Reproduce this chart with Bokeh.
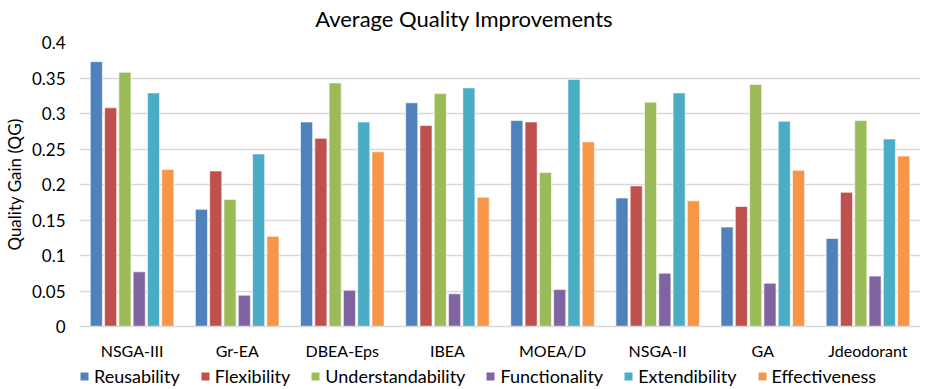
from bokeh.plotting import figure
from bokeh.layouts import column
from bokeh.models import (ColumnDataSource, FixedTicker, CustomJSTickFormatter, Legend,
                          LegendItem, Label)
from bokeh.transform import dodge
from bokeh.embed import file_html
from bokeh.resources import INLINE

algorithms = ["NSGA-III", "Gr-EA", "DBEA-Eps", "IBEA", "MOEA/D", "NSGA-II", "GA", "Jdeodorant"]
reusability = [0.373, 0.165, 0.288, 0.315, 0.290, 0.181, 0.140, 0.124]
flexibility = [0.308, 0.219, 0.265, 0.283, 0.288, 0.198, 0.169, 0.189]
understandability = [0.358, 0.179, 0.343, 0.328, 0.217, 0.316, 0.341, 0.290]
functionality = [0.077, 0.044, 0.051, 0.046, 0.052, 0.075, 0.061, 0.071]
extendibility = [0.329, 0.243, 0.288, 0.336, 0.348, 0.329, 0.289, 0.264]
effectiveness = [0.221, 0.127, 0.246, 0.182, 0.260, 0.177, 0.220, 0.240]
yticks = [0, 0.05, 0.1, 0.15, 0.2, 0.25, 0.3, 0.35, 0.4]

series = [
    ("Reusability", reusability, "#4F81BD"),
    ("Flexibility", flexibility, "#C0504D"),
    ("Understandability", understandability, "#9BBB59"),
    ("Functionality", functionality, "#8064A2"),
    ("Extendibility", extendibility, "#4BACC6"),
    ("Effectiveness", effectiveness, "#F79646"),
]

data = {"alg": algorithms}
for name, vals, _ in series:
    data[name] = vals
source = ColumnDataSource(data)

FONT = "Lato"
W = 925
LEFT, RIGHT = 76, 920   # plot frame edges, shared by all strips of the column


def strip(height):
    # frameless strip whose x data units equal page pixels
    f = figure(width=W, height=height, x_range=(LEFT, RIGHT), y_range=(0, height),
               output_backend="svg", toolbar_location=None,
               x_axis_type=None, y_axis_type=None,
               min_border_left=LEFT, min_border_right=W - RIGHT,
               min_border_top=0, min_border_bottom=0)
    f.outline_line_color = None
    f.grid.visible = False
    return f


# header strip with the chart title
header = strip(32)
header.add_layout(Label(x=462, y=14, text="Average Quality Improvements",
                        text_align="center", text_baseline="middle",
                        text_font=FONT, text_font_size="22px", text_color="#000000"))

# main bar chart
p = figure(
    x_range=algorithms, y_range=(0, 0.4),
    width=W, height=330,
    output_backend="svg", toolbar_location=None,
    min_border_left=LEFT, min_border_right=W - RIGHT, min_border_top=10, min_border_bottom=5,
)

step = 0.136
for i, (name, vals, color) in enumerate(series):
    off = (i - 2.5) * step
    p.vbar(x=dodge("alg", off, range=p.x_range), top=name, width=0.115,
           source=source, fill_color=color, line_color="white", line_width=0.6)

p.outline_line_color = None
p.xgrid.grid_line_color = None
p.ygrid.grid_line_color = "#D9D9D9"
p.ygrid.grid_line_width = 1.5
p.ygrid.ticker = FixedTicker(ticks=yticks)

p.yaxis.ticker = FixedTicker(ticks=yticks)
p.yaxis.formatter = CustomJSTickFormatter(
    code="return tick.toFixed(2).replace(/0+$/, '').replace(/\\.$/, '');")
p.yaxis.axis_line_color = None
p.yaxis.major_tick_line_color = None
p.yaxis.minor_tick_line_color = None
p.yaxis.major_tick_out = 0
p.yaxis.minor_tick_out = 0
p.yaxis.major_label_standoff = 14
p.yaxis.major_label_text_font = FONT
p.yaxis.major_label_text_font_size = "17px"
p.yaxis.major_label_text_color = "#000000"
p.yaxis.axis_label = "Quality Gain (QG)"
p.yaxis.axis_label_text_font = FONT
p.yaxis.axis_label_text_font_size = "17px"
p.yaxis.axis_label_text_font_style = "normal"
p.yaxis.axis_label_text_color = "#000000"
p.yaxis.axis_label_standoff = 4

p.xaxis.axis_line_color = "#D9D9D9"
p.xaxis.axis_line_width = 1.5
p.xaxis.major_tick_line_color = None
p.xaxis.minor_tick_line_color = None
p.xaxis.major_tick_out = 0
p.xaxis.minor_tick_out = 0
p.xaxis.major_label_text_font = FONT
p.xaxis.major_label_text_font_size = "16px"
p.xaxis.major_label_text_color = "#000000"
p.xaxis.major_label_standoff = 14
p.x_range.range_padding = 0
p.x_range.group_padding = 0

# legend strip: hidden bar renderers carry the series colours for the swatches
legend_fig = strip(27)
items = []
for name, vals, color in series:
    r = legend_fig.vbar(x=[LEFT], top=[0], width=1, fill_color=color,
                        line_color=None, visible=False)
    items.append(LegendItem(label=name, renderers=[r]))
legend = Legend(
    items=items, orientation="horizontal", location=(0, 2),
    label_text_font=FONT, label_text_font_size="18px", label_text_color="#000000",
    glyph_width=10, glyph_height=10, label_standoff=5, spacing=20,
    border_line_color=None, background_fill_alpha=0, padding=0, margin=0,
)
legend_fig.add_layout(legend)

layout = column(header, p, legend_fig, spacing=0)
open("out.html", "w").write(file_html(layout, INLINE))
